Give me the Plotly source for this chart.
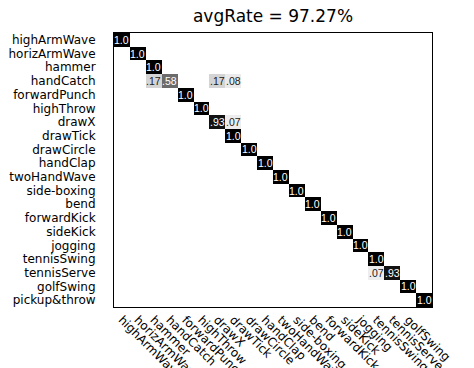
import plotly.graph_objects as go

# Action classes (rows = true class, columns = predicted class)
classes = ["highArmWave", "horizArmWave", "hammer", "handCatch", "forwardPunch",
           "highThrow", "drawX", "drawTick", "drawCircle", "handClap",
           "twoHandWave", "side-boxing", "bend", "forwardKick", "sideKick",
           "jogging", "tennisSwing", "tennisServe", "golfSwing", "pickup&throw"]

# Non-diagonal confusions: (true row, predicted column, rate)
off_diag = [(3, 2, 0.17), (3, 6, 0.17), (3, 7, 0.08),
            (6, 7, 0.07),
            (17, 16, 0.07)]
# Diagonal rates that are not perfect
diag_rates = {3: 0.58, 6: 0.93, 17: 0.93}

title_text = "avgRate = 97.27%"

n = len(classes)
z = [[0.0] * n for _ in range(n)]
for i in range(n):
    z[i][i] = diag_rates.get(i, 1.0)
for r, c, v in off_diag:
    z[r][c] = v


def fmt(v):
    if v >= 0.995:
        return "1.0"
    return ("%.2f" % v)[1:]


LABEL_FONT = dict(family="DejaVu Sans", size=12, color="black")

fig = go.Figure(go.Heatmap(
    z=z, x=list(range(n)), y=list(range(n)),
    zmin=0, zmax=1,
    colorscale=[[0, "#ffffff"], [1, "#000000"]],
    showscale=False, hoverinfo="skip",
))

for i in range(n):
    for j in range(n):
        v = z[i][j]
        if v > 0:
            fig.add_annotation(
                x=j, y=i, text=fmt(v), showarrow=False,
                font=dict(family="Liberation Sans, Arial", size=10.5,
                          color="#ffffff" if v > 0.5 else "#1a1a1a"),
            )

fig.update_layout(
    width=474, height=368,
    margin=dict(l=114, r=42, t=33, b=61),
    paper_bgcolor="white", plot_bgcolor="white",
    title=dict(text=title_text, x=0.5, xref="paper", xanchor="center",
               y=1 - 16 / 368, yref="container", yanchor="middle",
               font=dict(family="DejaVu Sans", size=17, color="black")),
    font=LABEL_FONT,
)

fig.update_xaxes(
    tickmode="array", tickvals=list(range(n)), ticktext=classes,
    tickangle=45, range=[-0.5, n - 0.5], automargin=False,
    showline=True, mirror=True, linecolor="black", linewidth=1,
    ticks="", showgrid=False, zeroline=False,
    tickfont=LABEL_FONT,
)
fig.update_yaxes(
    tickmode="array", tickvals=list(range(n)), ticktext=classes,
    range=[n - 0.5, -0.5], automargin=False,
    showline=True, mirror=True, linecolor="black", linewidth=1,
    ticks="outside", ticklen=15, tickcolor="rgba(0,0,0,0)",
    showgrid=False, zeroline=False,
    tickfont=LABEL_FONT,
)

fig.write_html("out.html")
